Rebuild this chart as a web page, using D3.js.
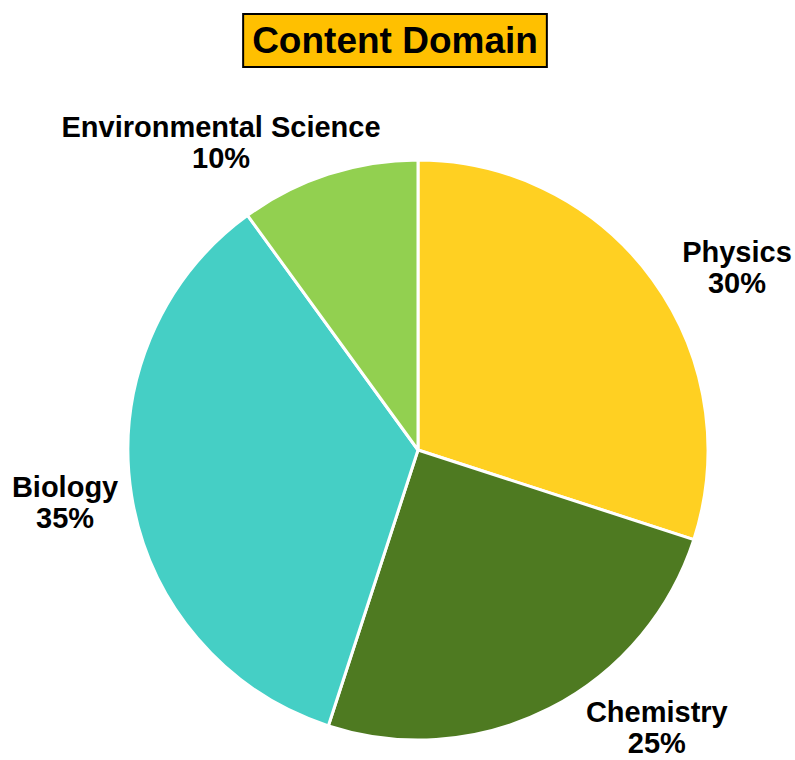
<!DOCTYPE html>
<html>
<head>
<meta charset="utf-8">
<script src="https://cdn.jsdelivr.net/npm/d3@7"></script>
<style>
  body { margin: 0; background: #fff; }
  text { font-family: "Liberation Sans", Arial, sans-serif; font-weight: bold; }
</style>
</head>
<body>
<svg id="chart"></svg>
<script>
const width = 795;
const height = 760;

// data
const categories = ["Physics", "Chemistry", "Biology", "Environmental Science"];
const shares = [30, 25, 35, 10];
const colors = ["#FFD022", "#4E7A21", "#45CFC5", "#92D050"];

// label nudges from the outer label ring (layout only)
const labelNudge = [[52, 14], [89, -14], [-27, 3], [-95, 9]];

const cx = 418;
const cy = 450;
const radius = 290;

const svg = d3.select("#chart")
  .attr("width", width)
  .attr("height", height);

// title box
const titleG = svg.append("g");
const titleText = titleG.append("text")
  .attr("x", 395)
  .attr("y", 53)
  .attr("text-anchor", "middle")
  .attr("font-size", 37)
  .attr("fill", "#000")
  .text("Content Domain");
const bb = titleText.node().getBBox();
titleG.insert("rect", "text")
  .attr("x", bb.x - 9)
  .attr("y", 14)
  .attr("width", bb.width + 18)
  .attr("height", 53)
  .attr("fill", "#FFC000")
  .attr("stroke", "#000")
  .attr("stroke-width", 2);

const data = categories.map((c, i) => ({ name: c, value: shares[i], color: colors[i], nudge: labelNudge[i] }));

const pie = d3.pie().sort(null).value(d => d.value);
const arc = d3.arc().innerRadius(0).outerRadius(radius);
const labelArc = d3.arc().innerRadius(330).outerRadius(330);

const g = svg.append("g").attr("transform", `translate(${cx}, ${cy})`);

g.selectAll("path")
  .data(pie(data))
  .enter()
  .append("path")
  .attr("d", arc)
  .attr("fill", d => d.data.color)
  .attr("stroke", "#fff")
  .attr("stroke-width", 3)
  .attr("stroke-linejoin", "round");

// labels
const labels = g.selectAll(".lbl")
  .data(pie(data))
  .enter()
  .append("text")
  .attr("class", "lbl")
  .attr("text-anchor", "middle")
  .attr("font-size", 29)
  .attr("fill", "#000")
  .attr("transform", d => {
    const [x, y] = labelArc.centroid(d);
    return `translate(${x + d.data.nudge[0]}, ${y + d.data.nudge[1]})`;
  });

labels.append("tspan")
  .attr("x", 0)
  .attr("y", -8)
  .text(d => d.data.name);

labels.append("tspan")
  .attr("x", 0)
  .attr("y", 23)
  .text(d => d.data.value + "%");
</script>
</body>
</html>
